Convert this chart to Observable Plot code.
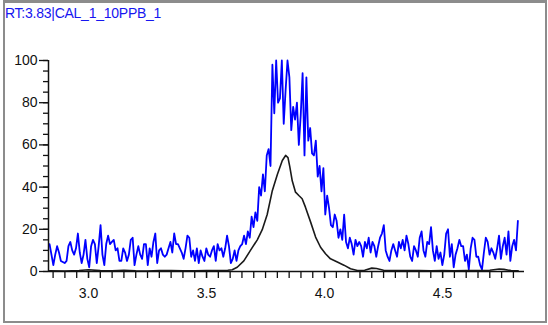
<!DOCTYPE html>
<html><head><meta charset="utf-8">
<script src="https://cdn.jsdelivr.net/npm/d3@7"></script>
<script src="https://cdn.jsdelivr.net/npm/@observablehq/plot@0.6"></script>
<style>
body{margin:0;background:#fff;}
#wrap{position:relative;width:548px;height:325px;overflow:hidden;background:#fff;}
#chart{position:absolute;left:0;top:0;}
#frame{position:absolute;left:3px;top:0px;width:544px;height:323px;box-sizing:border-box;border:2px solid #8c8c8c;border-top-width:3px;pointer-events:none;}
#title{position:absolute;left:5px;top:5px;font:14px "Liberation Sans",Arial,sans-serif;color:#1616f0;white-space:nowrap;letter-spacing:-0.25px;}
</style></head>
<body>
<div id="wrap"><div id="chart"></div><div id="frame"></div><div id="title"></div></div>
<script>
const titleText = "RT:3.83|CAL_1_10PPB_1";
const xDomain = [2.8305, 4.847];
const yDomain = [0, 100];
const yMajorTicks = [0, 20, 40, 60, 80, 100];
const yMinorTicks = [0,5,10,15,20,25,30,35,40,45,50,55,60,65,70,75,80,85,90,95,100];
const xLabelTicks = [3.0, 3.5, 4.0, 4.5];
const xMinorTicks = [2.85,2.9,2.95,3.0,3.05,3.1,3.15,3.2,3.25,3.3,3.35,3.4,3.45,3.5,3.55,3.6,3.65,3.7,3.75,3.8,3.85,3.9,3.95,4.0,4.05,4.1,4.15,4.2,4.25,4.3,4.35,4.4,4.45,4.5,4.55,4.6,4.65,4.7,4.75,4.8];

// blue trace: samples starting at blueStart, spaced blueStep
const blueStart = 2.835;
const blueStep = 0.008;
const blueValues = [
13,8,3,8,12,9,5,4.5,4,5,12,14,10,8,11,18,9,4,8,15,6,2,12,15,13,4,12,22,8,3,13,17,13,14,15,10,11,5,5,11,9,5,8,15,16,3,8,12,8,6,13,13,
3,11,7,14,18,4,10,11,8,7,8,11,14,9,18,13,13,11,9,6,11,17,16,7,10,5,11,4,10,7,5,11,8,7,10,12,5,13,10,11,7,11,17,12,4,6,10,5,10,12,
13,17,13,19,16,26,21,28,24,40,36,46,38,55,58,50,98,75,100,80,82,100,70,86,100,92,67,78,72,80,60,74,94,55,92,62,68,56,55,62,45,50,38,49,27,36,30,22,21,27,24,16,20,15,27,14,11,16,13,8,15,12,14,
12,7,14,11,16,9,14,12,7,12,16,18,22,10,7,5,10,13,10,7,14,11,15,10,17,13,7,5,12,10,7,16,19,10,7,14,13,21,
10,5,12,6,9,3,8,18,20,7,13,2,8,11,15,12,12,5,8,1,11,16,15,7,7,3,1,9,16,14,8,11,9,6,11,17,6,12,16,8,19,5,12,15,10,24
];

// black trace
const blackX = [2.835,2.9,2.96,3.0,3.05,3.1,3.15,3.2,3.25,3.3,3.35,3.4,3.45,3.5,3.55,3.59,3.609,3.63,3.658,3.686,3.715,3.736,3.757,3.778,3.80,3.821,3.835,3.845,3.853,3.863,3.877,3.891,3.905,3.919,3.941,3.962,3.983,4.004,4.025,4.054,4.082,4.11,4.139,4.17,4.2,4.22,4.25,4.3,4.35,4.4,4.45,4.5,4.55,4.6,4.65,4.7,4.74,4.76,4.79,4.82];
const blackY = [0.3,0.2,0.5,0.8,0.4,0.3,0.6,0.3,0.2,0.5,0.4,0.3,0.3,0.4,0.5,0.6,0.8,2,5,10,15,19.8,27,38,46,52.6,55,54,49.5,43,37.6,36,34.5,30.5,23.4,16.3,11.5,8.4,6,4.5,3,1.3,0.5,0.6,1.6,1.4,0.6,0.5,0.4,0.5,0.3,0.4,0.3,0.4,0.5,0.6,1.2,1.0,0.4,0.3];

const blue = blueValues.map((v, i) => ({x: blueStart + i * blueStep, y: v}));
const black = blackX.map((x, i) => ({x, y: blackY[i]}));

document.getElementById("title").textContent = titleText;

const fontFam = '"Liberation Sans", Arial, sans-serif';
const chart = Plot.plot({
  width: 548, height: 325,
  marginLeft: 48, marginRight: 24, marginTop: 60, marginBottom: 54,
  x: {domain: xDomain},
  y: {domain: yDomain},
  style: {background: "transparent", fontFamily: fontFam, fontSize: "14px", color: "#111"},
  marks: [
    Plot.line(blue, {x: "x", y: "y", stroke: "#0000ff", strokeWidth: 1.8}),
    Plot.line(black, {x: "x", y: "y", stroke: "#1a1a1a", strokeWidth: 1.6}),
    Plot.ruleY([yDomain[0]], {stroke: "#111", strokeWidth: 1.5}),
    Plot.ruleX([xDomain[0]], {y1: yDomain[0], y2: yDomain[1], stroke: "#111", strokeWidth: 1.5}),
    Plot.axisY({ticks: yMinorTicks, tickSize: 5, tickFormat: () => "", label: null, stroke: "#111", strokeWidth: 1.3}),
    Plot.axisY({ticks: yMajorTicks, tickSize: 9, tickPadding: 2, label: null, stroke: "#111", strokeWidth: 1.3, fill: "#111"}),
    Plot.axisX({ticks: xMinorTicks, tickSize: 7, tickFormat: () => "", label: null, stroke: "#111", strokeWidth: 1.3}),
    Plot.axisX({ticks: xLabelTicks, tickSize: 7, tickPadding: 10, tickFormat: d => d.toFixed(1), label: null, stroke: "#111", strokeWidth: 1.3, fill: "#111"})
  ]
});
document.getElementById("chart").appendChild(chart);
</script>
</body></html>
